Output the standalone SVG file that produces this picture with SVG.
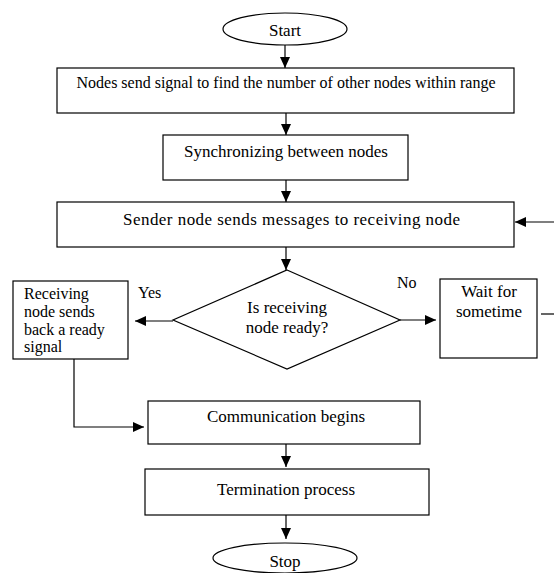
<svg xmlns="http://www.w3.org/2000/svg" width="554" height="573" viewBox="0 0 554 573">
<style>
.shape{fill:#fff;stroke:#000;stroke-width:1.2}
.t{font-family:"Liberation Serif","Times New Roman",serif;font-size:17px;fill:#000}
.s{font-size:16px}
.m{text-anchor:middle}
.c{fill:none;stroke:#000;stroke-width:1.2}
</style>
<defs>
<marker id="ah" markerUnits="userSpaceOnUse" markerWidth="11" markerHeight="10" refX="11" refY="5" orient="auto">
<path d="M0,0 L11,5 L0,10 z" fill="#000"/>
</marker>
</defs>
<rect width="554" height="573" fill="#fff"/>
<g id="connectors">
<path class="c" d="M285,45 V68" marker-end="url(#ah)"/>
<path class="c" d="M286,113 V135" marker-end="url(#ah)"/>
<path class="c" d="M286,180 V202" marker-end="url(#ah)"/>
<path class="c" d="M286,247 V270" marker-end="url(#ah)"/>
<path class="c" d="M173,321 H135" marker-end="url(#ah)"/>
<path class="c" d="M400,320 H436" marker-end="url(#ah)"/>
<path class="c" d="M541,314 H554"/>
<path class="c" d="M554,222 H515" marker-end="url(#ah)"/>
<path class="c" d="M74,359 V427 H144" marker-end="url(#ah)"/>
<path class="c" d="M286,444 V467" marker-end="url(#ah)"/>
<path class="c" d="M286,515 V539" marker-end="url(#ah)"/>
</g>
<g id="start">
<ellipse class="shape" cx="285" cy="29" rx="62" ry="16"/>
<text class="t m" x="285" y="36">Start</text>
</g>
<g id="find-nodes">
<rect class="shape" x="57" y="68" width="457" height="45"/>
<text class="t s m" x="286" y="88">Nodes send signal to find the number of other nodes within range</text>
</g>
<g id="sync">
<rect class="shape" x="163" y="135" width="245" height="45"/>
<text class="t m" x="286" y="157">Synchronizing between nodes</text>
</g>
<g id="send">
<rect class="shape" x="57" y="202" width="457" height="45"/>
<text class="t" x="123" y="225" textLength="337" lengthAdjust="spacing">Sender node sends messages to receiving node</text>
</g>
<g id="decision">
<polygon class="shape" points="287,270 400,320 287,369 173,320"/>
<text class="t m" x="287" y="313">Is receiving</text>
<text class="t m" x="287" y="333">node ready?</text>
</g>
<g id="label-yes"><text class="t s" x="138" y="298">Yes</text></g>
<g id="label-no"><text class="t s" x="397" y="288">No</text></g>
<g id="ready-signal">
<rect class="shape" x="13" y="281" width="115" height="78"/>
<text class="t s" x="24" y="299">Receiving</text>
<text class="t s" x="24" y="317">node sends</text>
<text class="t s" x="24" y="335">back a ready</text>
<text class="t s" x="24" y="352">signal</text>
</g>
<g id="wait">
<rect class="shape" x="440" y="279" width="97" height="79"/>
<text class="t m" x="489" y="297">Wait for</text>
<text class="t m" x="489" y="317">sometime</text>
</g>
<g id="communication">
<rect class="shape" x="148" y="401" width="272" height="43"/>
<text class="t m" x="286" y="422">Communication begins</text>
</g>
<g id="termination">
<rect class="shape" x="145" y="469" width="284" height="46"/>
<text class="t m" x="286" y="495">Termination process</text>
</g>
<g id="stop">
<ellipse class="shape" cx="285" cy="558" rx="72" ry="15"/>
<text class="t m" x="285" y="567">Stop</text>
</g>
</svg>
